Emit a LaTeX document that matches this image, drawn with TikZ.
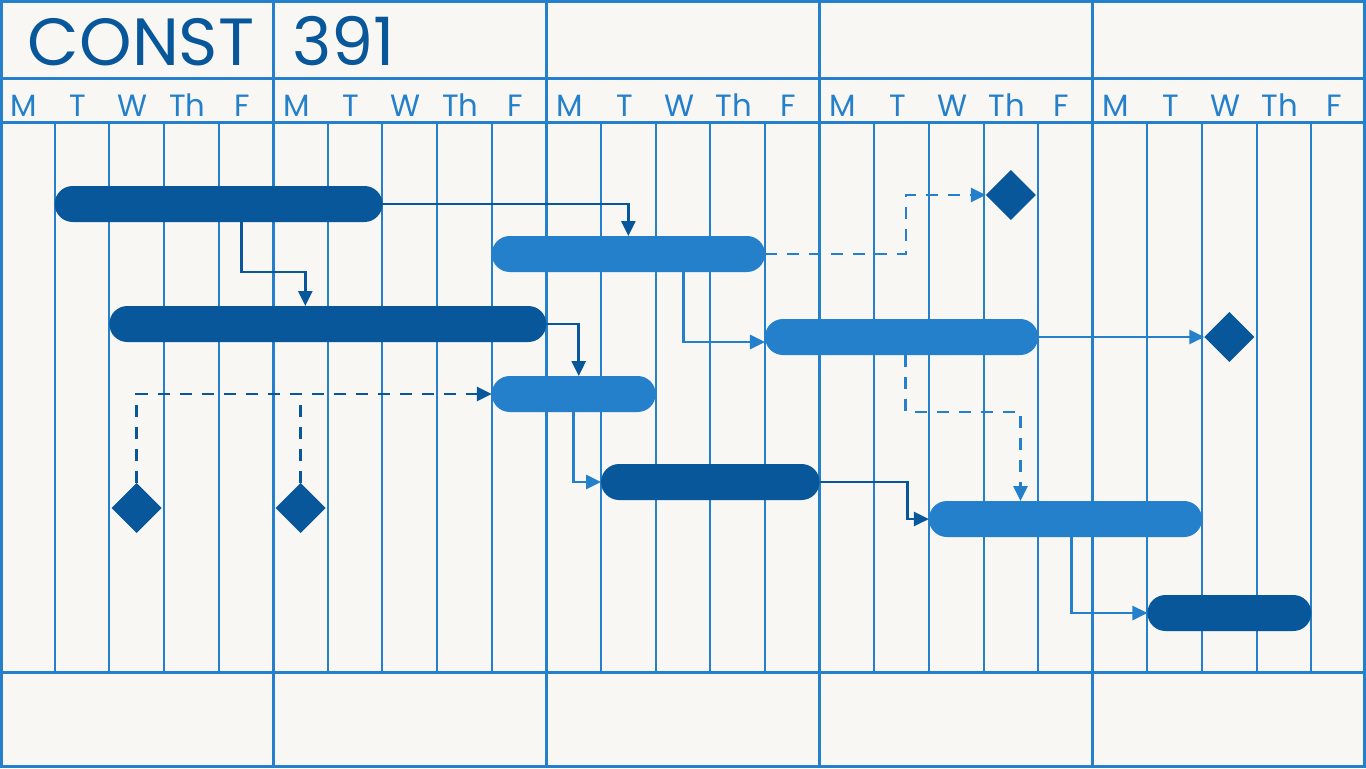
\documentclass[tikz,border=0pt]{standalone}
\usepackage{fontspec}
\setmainfont{Poppins}
\usetikzlibrary{shapes.geometric,positioning,calc,arrows.meta}
\definecolor{paper}{RGB}{248,247,244}
\definecolor{gridblue}{RGB}{37,128,204}
\definecolor{darkblue}{RGB}{8,87,155}

\begin{document}
\begin{tikzpicture}[x=0.02cm, y=-0.02cm,
    every node/.style={inner sep=0pt, outer sep=0pt},
    days/.style={minimum width=#1*1.0928cm},
    darkbar/.style={fill=darkblue, rounded corners=0.36cm, minimum height=0.72cm},
    lightbar/.style={fill=gridblue, rounded corners=0.36cm, minimum height=0.72cm},
    milestone/.style={diamond, fill=darkblue, minimum size=1cm},
    dkline/.style={draw=darkblue, line width=1.5pt, -{Triangle[length=0.3cm,width=0.28cm]}},
    ltline/.style={draw=gridblue, line width=1.5pt, -{Triangle[length=0.3cm,width=0.28cm]}},
    linkdash/.style={dash pattern=on 0.24cm off 0.2cm},
    dayline/.style={draw=gridblue, line width=0.04cm},
    weekline/.style={draw=gridblue, line width=0.06cm}]

    \def\dw{54.64}
    \def\ww{273.2}

    % Paper and frame
    \useasboundingbox (0,0) rectangle (1366,768);
    \fill[paper] (0,0) rectangle (1366,768);
    \draw[weekline] (1.5,1.5) rectangle (1364.5,766.5);
    \draw[weekline] (0,78) -- (1366,78);
    \draw[weekline] (0,122) -- (1366,122);
    \draw[weekline] (0,672) -- (1366,672);
    \foreach \w in {1,...,4} \draw[weekline] ({\w*\ww},0) -- ({\w*\ww},768);
    \foreach \w in {0,...,4} {
        \foreach \k in {1,...,4} \draw[dayline] ({\w*\ww+\k*\dw},122) -- ({\w*\ww+\k*\dw},672);
        \foreach [count=\k from 0] \lbl in {M,T,W,Th,F}
            \node[anchor=base, text=gridblue, font=\fontsize{17.5}{20}\selectfont] at ({\w*\ww+(\k+0.5)*\dw-4},116) {\lbl};
    }

    % Title
    \node[anchor=base west, text=darkblue, font=\fontsize{38}{42}\selectfont] (title) at (28,65) {CONST};
    \node[anchor=base west, text=darkblue, font=\fontsize{38}{42}\selectfont] (course) at (292,65) {391};

    % Task bars
    \node[darkbar, days=6] (b1) at ({4*\dw},204) {};
    \node[lightbar, days=5] (b2) at ({11.5*\dw},254) {};
    \node[darkbar, days=8] (b3) at ({6*\dw},324) {};
    \node[lightbar, days=3] (b4) at ({10.5*\dw},394) {};
    \node[lightbar, days=5] (b5) at ({16.5*\dw},337) {};
    \node[darkbar, days=4] (b6) at ({13*\dw},482) {};
    \node[lightbar, days=5] (b7) at ({19.5*\dw},519) {};
    \node[darkbar, days=3] (b8) at ({22.5*\dw},613) {};

    % Milestones
    \node[milestone] (m1) at ({18.5*\dw},195) {};
    \node[milestone] (m2) at ({22.5*\dw},337) {};
    \node[milestone] (m3) at ({2.5*\dw},508) {};
    \node[milestone] (m4) at ({5.5*\dw},508) {};

    % Dependencies
    \draw[dkline] (b1.east) -| (b2.north);
    \draw[dkline] ($(b1.south west)+(187,0)$) -- ++(0,50) -| ($(b3.north west)+(196,0)$);
    \draw[dkline] (b3.east) -| ($(b4.north)+(5,0)$);
    \draw[dkline, linkdash] (m3.north) |- (b4.west);
    \draw[draw=darkblue, line width=1.5pt, linkdash] (m4.north) -- (m4.north |- b4.west);
    \draw[ltline] (b4.south) |- (b6.west);
    \draw[ltline] ($(b2.south)+(55,0)$) |- ($(b5.west)+(0,5)$);
    \draw[ltline, linkdash] (b2.east) -- ++(141,0) |- (m1.west);
    \draw[ltline] (b5.east) -- (m2.west);
    \draw[ltline, linkdash] ($(b5.south)+(4,0)$) -- ++(0,57) -| ($(b7.north)+(-45,0)$);
    \draw[dkline] (b6.east) -- ++(88,0) |- (b7.west);
    \draw[ltline] ($(b7.south)+(6,0)$) |- (b8.west);
\end{tikzpicture}
\end{document}
